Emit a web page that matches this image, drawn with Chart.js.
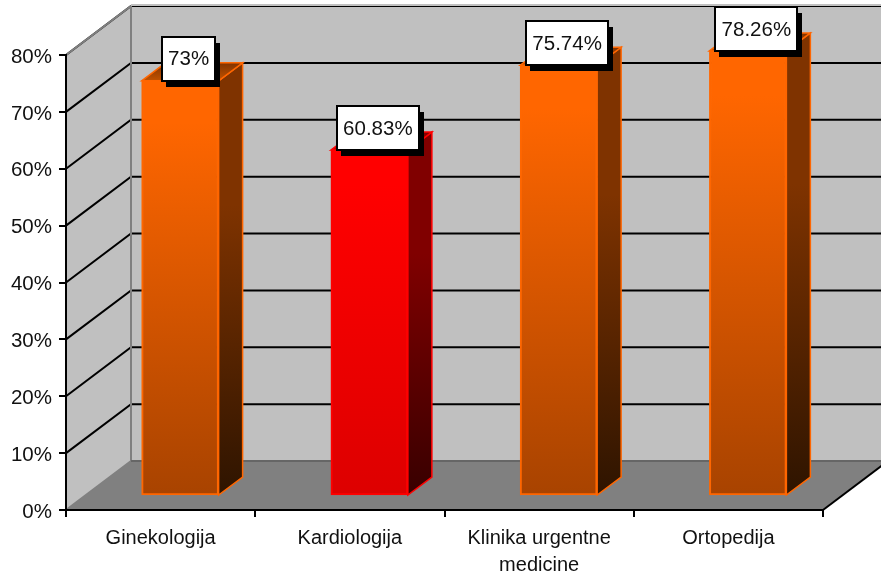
<!DOCTYPE html>
<html lang="en">

<head>
  <meta charset="UTF-8">
  <title>Chart</title>
  <script src="https://cdn.jsdelivr.net/npm/chart.js"></script>
  <style>
    html, body { margin: 0; padding: 0; background: #fff; }
    #box { width: 881px; height: 575px; }
  </style>
</head>

<body>
  <div id="box"><canvas id="myChart"></canvas></div>

  <script>
    const categories = ['Ginekologija', 'Kardiologija', ['Klinika urgentne', 'medicine'], 'Ortopedija']
    const values = [73, 60.83, 75.74, 78.26]
    const yTicks = [0, 10, 20, 30, 40, 50, 60, 70, 80]

    // front / side / top colours of each bar: [top, bottom]
    const orange = { front: ['#ff6600', '#a84300'], side: ['#7f3300', '#2e1400'], top: ['#7f3300', '#c25200'], line: '#ff6600' }
    const red = { front: ['#ff0000', '#dd0000'], side: ['#800000', '#380000'], top: ['#800000', '#c00000'], line: '#ff0000' }
    const barStyles = [orange, red, orange, orange]

    // depth of the box and of the bars inside it
    const wallDx = 65, wallDy = 49
    const barShiftX = 19.5, barShiftY = 14
    const barDx = 24, barDy = 18

    function vGradient(ctx, y0, y1, colors, hold) {
      const g = ctx.createLinearGradient(0, y0, 0, y1)
      g.addColorStop(0, colors[0])
      g.addColorStop(hold, colors[0])
      g.addColorStop(1, colors[1])
      return g
    }

    function poly(ctx, pts, fill, stroke, width) {
      ctx.beginPath()
      pts.forEach((p, i) => i ? ctx.lineTo(p[0], p[1]) : ctx.moveTo(p[0], p[1]))
      ctx.closePath()
      if (fill) { ctx.fillStyle = fill; ctx.fill() }
      if (stroke) { ctx.strokeStyle = stroke; ctx.lineWidth = width; ctx.stroke() }
    }

    const box3d = {
      id: 'box3d',
      beforeDraw(chart) {
        const { ctx, chartArea: a, scales: { y } } = chart
        const rightEdge = chart.width
        ctx.save()
        // back wall
        poly(ctx, [[a.left + wallDx, a.top - wallDy], [rightEdge, a.top - wallDy], [rightEdge, a.bottom - wallDy], [a.left + wallDx, a.bottom - wallDy]], '#c0c0c0')
        // left wall
        poly(ctx, [[a.left, a.top], [a.left + wallDx, a.top - wallDy], [a.left + wallDx, a.bottom - wallDy], [a.left, a.bottom]], '#c0c0c0')
        // floor
        poly(ctx, [[a.left, a.bottom], [a.left + wallDx, a.bottom - wallDy], [a.right + wallDx, a.bottom - wallDy], [a.right, a.bottom]], '#808080')

        // grid lines run along the left wall and across the back wall
        ctx.strokeStyle = '#000'
        ctx.lineWidth = 2
        yTicks.forEach(t => {
          if (t === 0) return
          const py = y.getPixelForValue(t)
          ctx.beginPath()
          ctx.moveTo(a.left, py)
          ctx.lineTo(a.left + wallDx, py - wallDy)
          ctx.lineTo(rightEdge, py - wallDy)
          ctx.stroke()
        })
        // wall edges
        ctx.strokeStyle = '#808080'
        ctx.beginPath()
        ctx.moveTo(a.left, a.bottom)
        ctx.lineTo(a.left + wallDx, a.bottom - wallDy)
        ctx.moveTo(a.left + wallDx, a.bottom - wallDy)
        ctx.lineTo(a.left + wallDx, a.top - wallDy)
        ctx.lineTo(a.left, a.top)
        ctx.stroke()
        ctx.strokeStyle = '#666'
        ctx.beginPath()
        ctx.moveTo(a.left + wallDx, a.bottom - wallDy)
        ctx.lineTo(rightEdge, a.bottom - wallDy)
        ctx.stroke()
        ctx.strokeStyle = '#c0c0c0'
        ctx.beginPath()
        ctx.moveTo(a.left + wallDx, a.top - wallDy - 1)
        ctx.lineTo(rightEdge, a.top - wallDy - 1)
        ctx.stroke()
        // open right edge of the floor
        ctx.strokeStyle = '#000'
        ctx.beginPath()
        ctx.moveTo(a.right, a.bottom)
        ctx.lineTo(a.right + wallDx, a.bottom - wallDy)
        ctx.stroke()
        ctx.restore()
      },
      beforeDatasetsDraw(chart) {
        const { ctx } = chart
        const bars = chart.getDatasetMeta(0).data
        ctx.save()
        ctx.translate(barShiftX, -barShiftY)
        bars.forEach((bar, i) => {
          const s = barStyles[i]
          const xr = bar.x + bar.width / 2
          const xl = bar.x - bar.width / 2
          const side = vGradient(ctx, bar.y, bar.base, s.side, 0.3)
          poly(ctx, [[xr, bar.y], [xr + barDx, bar.y - barDy], [xr + barDx, bar.base - barDy], [xr, bar.base]], side, s.line, 1.5)
          const top = vGradient(ctx, bar.y - barDy, bar.y, s.top, 0)
          poly(ctx, [[xl, bar.y], [xl + barDx, bar.y - barDy], [xr + barDx, bar.y - barDy], [xr, bar.y]], top, s.line, 1.5)
        })
      },
      afterDatasetsDraw(chart) {
        const { ctx } = chart
        ctx.restore()
        // value boxes with their hard shadow
        const bars = chart.getDatasetMeta(0).data
        ctx.save()
        ctx.font = '20.5px "Liberation Sans"'
        ctx.textAlign = 'center'
        ctx.textBaseline = 'middle'
        bars.forEach((bar, i) => {
          const text = values[i] + '%'
          const w = Math.round(ctx.measureText(text).width) + 12
          const h = 44
          const cx = bar.x + barShiftX + 8.5
          const cy = bar.y - barShiftY - 22
          const x = Math.round(cx - w / 2), yy = Math.round(cy - h / 2)
          ctx.fillStyle = '#000'
          ctx.fillRect(x + 4, yy + 6, w + 1, h)
          ctx.fillStyle = '#fff'
          ctx.fillRect(x, yy, w, h)
          ctx.strokeStyle = '#000'
          ctx.lineWidth = 2
          ctx.strokeRect(x, yy, w, h)
          ctx.fillStyle = '#111'
          ctx.fillText(text, cx, cy + 1)
        })
        ctx.restore()
      }
    }

    new Chart(document.getElementById('myChart'), {
      type: 'bar',
      data: {
        labels: categories,
        datasets: [{
          data: values,
          clip: false,
          barThickness: 77,
          backgroundColor: c => {
            const a = c.chart.chartArea
            if (!a) return barStyles[c.dataIndex].front[0]
            const yTop = c.chart.scales.y.getPixelForValue(values[c.dataIndex])
            return vGradient(c.chart.ctx, yTop, a.bottom, barStyles[c.dataIndex].front, 0.1)
          },
          borderColor: c => barStyles[c.dataIndex].line,
          borderWidth: 2,
          borderSkipped: false
        }]
      },
      options: {
        responsive: true,
        maintainAspectRatio: false,
        animation: false,
        layout: { padding: { top: 55, right: 58, left: 0, bottom: 0 } },
        plugins: { legend: { display: false }, title: { display: false }, tooltip: { enabled: false } },
        scales: {
          x: {
            afterFit: s => { s.height = 65 },
            border: { color: '#000', width: 2 },
            grid: { drawOnChartArea: false, color: '#000', lineWidth: 2, tickLength: 7, offset: true },
            ticks: { color: '#111', font: { family: 'Liberation Sans', size: 20, lineHeight: 1.35 }, maxRotation: 0, padding: 8 }
          },
          y: {
            min: 0,
            max: 80,
            afterFit: s => { s.width = 66 },
            afterBuildTicks: s => { s.ticks = yTicks.map(v => ({ value: v })) },
            border: { color: '#000', width: 2 },
            grid: { drawOnChartArea: false, color: '#000', lineWidth: 2, tickLength: 7 },
            ticks: { color: '#111', font: { family: 'Liberation Sans', size: 20.5 }, padding: 7, labelOffset: 2, callback: v => v + '%' }
          }
        }
      },
      plugins: [box3d]
    })
  </script>
</body>

</html>
